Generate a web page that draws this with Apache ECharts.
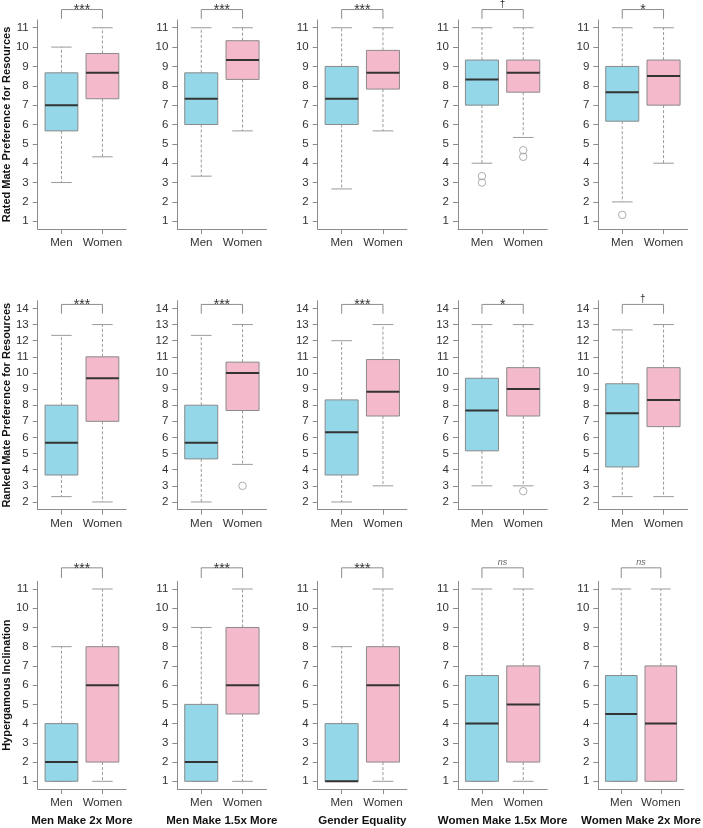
<!DOCTYPE html>
<html>
<head>
<meta charset="utf-8">
<script src="https://cdn.jsdelivr.net/npm/echarts@6/dist/echarts.min.js"></script>
<style>
  html, body { margin: 0; padding: 0; background: #fff; }
  #chart { width: 703px; height: 828px; }
</style>
</head>
<body>
<div id="chart"></div>
<script>
// ---------------- DATA ----------------
const groups = ['Men', 'Women'];
const conditions = ['Men Make 2x More', 'Men Make 1.5x More', 'Gender Equality', 'Women Make 1.5x More', 'Women Make 2x More'];
const measures = ['Rated Mate Preference for Resources', 'Ranked Mate Preference for Resources', 'Hypergamous Inclination'];
const ratedTicks = [1, 2, 3, 4, 5, 6, 7, 8, 9, 10, 11];
const rankedTicks = [2, 3, 4, 5, 6, 7, 8, 9, 10, 11, 12, 13, 14];
const hyperTicks = [1, 2, 3, 4, 5, 6, 7, 8, 9, 10, 11];

// boxes: [lower whisker, Q1, median, Q3, upper whisker], one per condition
const ratedMen = [[3, 5.67, 7, 8.67, 10], [3.33, 6, 7.33, 8.67, 11], [2.67, 6, 7.33, 9, 11], [4, 7, 8.33, 9.33, 11], [2, 6.17, 7.67, 9, 11]];
const ratedWomen = [[4.33, 7.33, 8.67, 9.67, 11], [5.67, 8.33, 9.33, 10.33, 11], [5.67, 7.83, 8.67, 9.83, 11], [5.33, 7.67, 8.67, 9.33, 11], [4, 7, 8.5, 9.33, 11]];
const rankedMen = [[2.33, 3.67, 5.67, 8, 12.33], [2, 4.67, 5.67, 8, 12.33], [2, 3.67, 6.33, 8.33, 12], [3, 5.17, 7.67, 9.67, 13], [2.33, 4.17, 7.5, 9.33, 12.67]];
const rankedWomen = [[2, 7, 9.67, 11, 13], [4.33, 7.67, 10, 10.67, 13], [3, 7.33, 8.83, 10.83, 13], [3, 7.33, 9, 10.33, 13], [2.33, 6.67, 8.33, 10.33, 13]];
const hyperMen = [[1, 1, 2, 4, 8], [1, 1, 2, 5, 9], [1, 1, 1, 4, 8], [1, 1, 4, 6.5, 11], [1, 1, 4.5, 6.5, 11]];
const hyperWomen = [[1, 2, 6, 8, 11], [1, 4.5, 6, 9, 11], [1, 2, 6, 8, 11], [1, 2, 5, 7, 11], [1, 1, 4, 7, 11]];

// outliers: [group position (1 = Men, 2 = Women), value], one list per condition
const ratedOutliers = [[], [], [], [[1, 3.33], [1, 3], [2, 4.67], [2, 4.33]], [[1, 1.33]]];
const rankedOutliers = [[], [[2, 3]], [], [[2, 2.67]], []];
const hyperOutliers = [[], [], [], [], []];

const ratedSig = ['***', '***', '***', '†', '*'];
const rankedSig = ['***', '***', '***', '*', '†'];
const hyperSig = ['***', '***', '***', 'ns', 'ns'];

// ---------------- LAYOUT ----------------
const rows = [
  { men: ratedMen, women: ratedWomen, out: ratedOutliers, sig: ratedSig, ticks: ratedTicks, min: 0.6, max: 11.4, top: 20, brY: 11.94, legY: 11.46 },
  { men: rankedMen, women: rankedWomen, out: rankedOutliers, sig: rankedSig, ticks: rankedTicks, min: 1.52, max: 14.48, top: 300.7, brY: 14.25, legY: 13.67 },
  { men: hyperMen, women: hyperWomen, out: hyperOutliers, sig: hyperSig, ticks: hyperTicks, min: 0.6, max: 11.4, top: 581.3, brY: 12.1, legY: 11.57 }
];
const colLeft = [37, 177.3, 317.7, 458, 598.3];
const plotW = 89.2, plotH = 209;
const BLUE = '#93d7e8', PINK = '#f4bacb';
const AXIS = '#8c8c8c', TXT = '#333';
const FONT = 'Liberation Sans, Arial, sans-serif';

const grids = [], xAxes = [], yAxes = [], series = [];

function boxRender(params, api) {
  const x = api.value(0);
  const v = [1, 2, 3, 4, 5].map(i => api.value(i));
  const p = v.map(val => api.coord([x, val]));
  const cx = p[0][0];
  const half = api.size([0.8, 0])[0] / 2;
  const staple = api.size([0.5, 0])[0] / 2;
  const fill = x === 1 ? BLUE : PINK;
  const wh = { stroke: '#9a9a9a', lineWidth: 1, lineDash: [3, 2] };
  return {
    type: 'group',
    children: [
      { type: 'line', shape: { x1: cx, y1: p[3][1], x2: cx, y2: p[4][1] }, style: wh },
      { type: 'line', shape: { x1: cx, y1: p[1][1], x2: cx, y2: p[0][1] }, style: wh },
      { type: 'line', shape: { x1: cx - staple, y1: p[4][1], x2: cx + staple, y2: p[4][1] }, style: { stroke: '#9a9a9a', lineWidth: 1 } },
      { type: 'line', shape: { x1: cx - staple, y1: p[0][1], x2: cx + staple, y2: p[0][1] }, style: { stroke: '#9a9a9a', lineWidth: 1 } },
      { type: 'rect', shape: { x: cx - half, y: p[3][1], width: 2 * half, height: p[1][1] - p[3][1] }, style: { fill: fill, stroke: '#8a8a8a', lineWidth: 1 } },
      { type: 'line', shape: { x1: cx - half, y1: p[2][1], x2: cx + half, y2: p[2][1] }, style: { stroke: '#333', lineWidth: 2 } }
    ]
  };
}

rows.forEach((row, r) => {
  for (let c = 0; c < 5; c++) {
    const gi = r * 5 + c;
    grids.push({ left: colLeft[c], top: row.top, width: plotW, height: plotH });
    xAxes.push({
      gridIndex: gi, type: 'value', min: 0.42, max: 2.58,
      axisLine: { show: true, onZero: false, lineStyle: { color: AXIS, width: 1 } },
      axisTick: { show: true, length: 5, customValues: [1, 2], lineStyle: { color: AXIS } },
      axisLabel: { customValues: [1, 2], margin: 8, color: TXT, fontSize: 11.5, fontFamily: FONT, formatter: v => groups[Math.round(v) - 1] || '' },
      splitLine: { show: false },
      name: r === 2 ? conditions[c] : '',
      nameLocation: 'middle', nameGap: 26,
      nameTextStyle: { fontWeight: 'bold', fontSize: 11.5, color: '#111', fontFamily: FONT }
    });
    yAxes.push({
      gridIndex: gi, type: 'value', min: row.min, max: row.max,
      axisLine: { show: true, lineStyle: { color: AXIS, width: 1 } },
      axisTick: { show: true, length: 5, customValues: row.ticks, lineStyle: { color: AXIS } },
      axisLabel: { customValues: row.ticks, margin: 9, color: TXT, fontSize: 11.5, fontFamily: FONT },
      splitLine: { show: false },
      name: c === 0 ? measures[r] : '',
      nameLocation: 'middle', nameRotate: 90, nameGap: 25,
      nameTextStyle: { fontWeight: 'bold', fontSize: 11, color: '#111', fontFamily: FONT }
    });
    series.push({
      type: 'custom', xAxisIndex: gi, yAxisIndex: gi,
      renderItem: boxRender,
      encode: { x: 0, y: [1, 2, 3, 4, 5] },
      data: [[1].concat(row.men[c]), [2].concat(row.women[c])],
      silent: true, animation: false
    });
    if (row.out[c].length) {
      series.push({
        type: 'scatter', xAxisIndex: gi, yAxisIndex: gi,
        symbol: 'circle', symbolSize: 7.5,
        itemStyle: { color: 'rgba(255,255,255,0)', borderColor: '#9a9a9a', borderWidth: 1 },
        data: row.out[c], silent: true, animation: false
      });
    }
    const label = row.sig[c];
    series.push({
      type: 'custom', xAxisIndex: gi, yAxisIndex: gi, clip: false,
      renderItem: (params, api) => {
        const a = api.coord([1, row.brY]);
        const b = api.coord([2, row.brY]);
        const l = api.coord([1, row.legY]);
        const stroke = { stroke: '#8c8c8c', lineWidth: 1 };
        const isNs = label === 'ns';
        const isStar = label.indexOf('*') >= 0;
        const ty = isStar ? a[1] + 1 : a[1] - 5;
        const font = isNs ? 'italic 9px ' + FONT : (isStar ? '14px ' + FONT : '10px ' + FONT);
        return {
          type: 'group',
          children: [
            { type: 'line', shape: { x1: a[0], y1: a[1], x2: b[0], y2: b[1] }, style: stroke },
            { type: 'line', shape: { x1: a[0], y1: a[1], x2: a[0], y2: l[1] }, style: stroke },
            { type: 'line', shape: { x1: b[0], y1: b[1], x2: b[0], y2: l[1] }, style: stroke },
            { type: 'text', x: (a[0] + b[0]) / 2, y: ty,
              style: { text: label, textAlign: 'center', textVerticalAlign: 'middle',
                       font: font, fill: isNs ? '#666' : '#333' } }
          ]
        };
      },
      data: [[1, row.brY]], silent: true, animation: false,
      encode: { x: 0, y: 1 }
    });
  }
});

const chart = echarts.init(document.getElementById('chart'), null, { renderer: 'canvas' });
chart.setOption({
  animation: false,
  backgroundColor: '#fff',
  grid: grids, xAxis: xAxes, yAxis: yAxes, series: series
});
</script>
</body>
</html>
